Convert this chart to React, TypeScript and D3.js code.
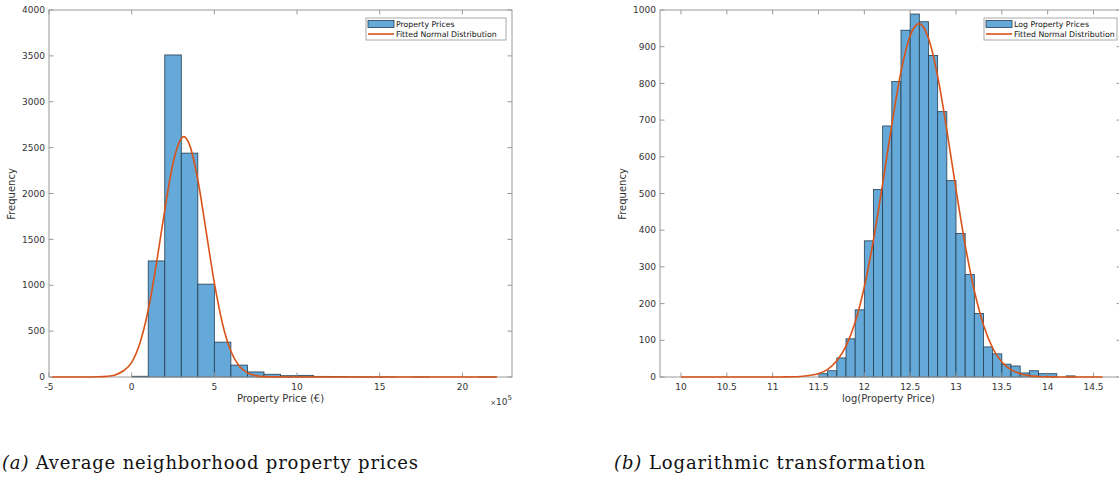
import React from "react";
import * as d3 from "d3";

// left panel: raw prices (x in units of 10^5 €), bin width 1
const priceBinStart = [0, 1, 2, 3, 4, 5, 6, 7, 8, 9, 10, 11, 12, 13, 14, 15, 16, 17, 18, 19, 20, 21];
const priceCounts = [8, 1265, 3510, 2440, 1012, 380, 130, 55, 30, 14, 18, 7, 6, 2, 1, 1, 0, 1, 0, 0, 0, 1];
const priceFitX = [-4.8, -3, -2, -1.5, -1, -0.5, 0, 0.5, 1, 1.5, 2, 2.5, 3, 3.15, 3.5, 4, 4.5, 5, 5.5, 6, 6.5, 7, 7.5, 8, 9, 22.1];
const priceFitY = [0, 0, 2, 7, 23, 68, 160, 370, 730, 1240, 1820, 2330, 2600, 2620, 2530, 2150, 1590, 1025, 575, 280, 120, 45, 15, 4, 0, 0];
const priceTicksX = [-5, 0, 5, 10, 15, 20];
const priceTicksY = [0, 500, 1000, 1500, 2000, 2500, 3000, 3500, 4000];

// right panel: log prices, bin width 0.1
const logBinStart = [11.5, 11.6, 11.7, 11.8, 11.9, 12.0, 12.1, 12.2, 12.3, 12.4, 12.5, 12.6, 12.7, 12.8, 12.9, 13.0, 13.1, 13.2, 13.3, 13.4, 13.5, 13.6, 13.7, 13.8, 13.9, 14.0, 14.1, 14.2];
const logCounts = [9, 17, 52, 104, 183, 371, 511, 684, 805, 945, 989, 968, 876, 723, 535, 391, 279, 173, 82, 63, 35, 30, 11, 17, 9, 9, 0, 3];
const logFitX = [
  10.0, 10.1, 10.2, 10.3, 10.4, 10.5, 10.6, 10.7, 10.8, 10.9,
  11.0, 11.1, 11.2, 11.3, 11.4, 11.5, 11.6, 11.7, 11.8, 11.9,
  12.0, 12.1, 12.2, 12.3, 12.4, 12.5, 12.6, 12.7, 12.8, 12.9,
  13.0, 13.1, 13.2, 13.3, 13.4, 13.5, 13.6, 13.7, 13.8, 13.9,
  14.0, 14.1, 14.2, 14.3, 14.4, 14.5, 14.6,
];
const logFitY = [
  0, 0, 0, 0, 0, 0, 0, 0, 0, 0,
  0, 0.2, 0.5, 1.5, 4, 9, 21, 44, 84, 149,
  246, 374, 527, 688, 832, 930, 963, 923, 819, 673,
  511, 360, 235, 142, 79, 41, 20, 9, 3.5, 1.4,
  0.5, 0.2, 0, 0, 0, 0, 0,
];
const logTicksX = [10, 10.5, 11, 11.5, 12, 12.5, 13, 13.5, 14, 14.5];
const logTicksY = [0, 100, 200, 300, 400, 500, 600, 700, 800, 900, 1000];

const BAR_FILL = "#64a9d7";
const BAR_EDGE = "#253d50";
const FIT = "#d95319";
const AXIS = "#999999";
const TXT = "#333333";
const FONT = "DejaVu Sans, sans-serif";

const Panel = ({ left, right, xDomain, yMax, xTicks, yTicks, bins, counts, binWidth, fitX, fitY, xLabel, barName, legendX, legendW, exponent }) => {
  const top = 10;
  const bottom = 377;
  const x = d3.scaleLinear().domain(xDomain).range([left, right]);
  const y = d3.scaleLinear().domain([0, yMax]).range([bottom, top]);
  const fitLine = d3
    .line()
    .x((d) => x(d[0]))
    .y((d) => y(d[1]))
    .curve(d3.curveMonotoneX);
  const fitPts = fitX.map((v, i) => [v, fitY[i]]);
  const tl = 4.5;

  return (
    <g fontFamily={FONT}>
      {/* bars */}
      {bins.map((b, i) => (
        <rect
          key={i}
          x={x(b)}
          y={y(counts[i])}
          width={x(b + binWidth) - x(b)}
          height={bottom - y(counts[i])}
          fill={BAR_FILL}
          stroke={BAR_EDGE}
          strokeWidth={0.8}
        />
      ))}

      {/* axes box and ticks */}
      <rect x={left} y={top} width={right - left} height={bottom - top} fill="none" stroke={AXIS} strokeWidth={1} />
      {xTicks.map((t) => (
        <g key={"x" + t}>
          <line x1={x(t)} x2={x(t)} y1={bottom} y2={bottom - tl} stroke={AXIS} />
          <line x1={x(t)} x2={x(t)} y1={top} y2={top + tl} stroke={AXIS} />
          <text x={x(t)} y={390} fontSize={9} fill={TXT} textAnchor="middle">
            {String(t)}
          </text>
        </g>
      ))}
      {yTicks.map((t) => (
        <g key={"y" + t}>
          <line x1={left} x2={left + tl} y1={y(t)} y2={y(t)} stroke={AXIS} />
          <line x1={right} x2={right - tl} y1={y(t)} y2={y(t)} stroke={AXIS} />
          <text x={left - 4} y={y(t)} dy="0.35em" fontSize={9} fill={TXT} textAnchor="end">
            {String(t)}
          </text>
        </g>
      ))}

      {/* fitted curve */}
      <path d={fitLine(fitPts)} fill="none" stroke={FIT} strokeWidth={1.6} />

      {/* labels */}
      <text x={(left + Math.min(right, 1117)) / 2} y={402} fontSize={10} fill={TXT} textAnchor="middle">
        {xLabel}
      </text>
      <text transform={`translate(${left - 34},194) rotate(-90)`} fontSize={10} fill={TXT} textAnchor="middle">
        Frequency
      </text>
      {exponent && (
        <text x={right} y={405} fontSize={9} fill={TXT} textAnchor="end">
          <tspan fontSize={7}>×</tspan>10
          <tspan fontSize={7} dy={-5}>5</tspan>
        </text>
      )}

      {/* legend */}
      <rect x={legendX} y={18} width={legendW} height={22} fill="#fff" stroke="#aaaaaa" strokeWidth={1} />
      <rect x={legendX + 2} y={20.5} width={26} height={7} fill={BAR_FILL} stroke={BAR_EDGE} strokeWidth={0.8} />
      <line x1={legendX + 2} x2={legendX + 28} y1={34} y2={34} stroke={FIT} strokeWidth={1.6} />
      <text x={legendX + 30} y={27} fontSize={7.8} fill="#111">
        {barName}
      </text>
      <text x={legendX + 30} y={37} fontSize={7.8} fill="#111">
        Fitted Normal Distribution
      </text>
    </g>
  );
};

const App = () => {
  return (
    <svg
      width={1119}
      height={478}
      style={{ position: "absolute", left: 0, top: 0, background: "#fff" }}
    >
      <rect width={1119} height={478} fill="#fff" />
      <Panel
        left={49}
        right={512}
        xDomain={[-5, 23]}
        yMax={4000}
        xTicks={priceTicksX}
        yTicks={priceTicksY}
        bins={priceBinStart}
        counts={priceCounts}
        binWidth={1}
        fitX={priceFitX}
        fitY={priceFitY}
        xLabel="Property Price (€)"
        barName="Property Prices"
        legendX={366}
        legendW={140}
        exponent
      />
      <Panel
        left={660}
        right={1121}
        xDomain={[9.771, 14.8]}
        yMax={1000}
        xTicks={logTicksX}
        yTicks={logTicksY}
        bins={logBinStart}
        counts={logCounts}
        binWidth={0.1}
        fitX={logFitX}
        fitY={logFitY}
        xLabel="log(Property Price)"
        barName="Log Property Prices"
        legendX={984}
        legendW={133}
        exponent={false}
      />

      {/* captions */}
      <text x={2} y={469} fontFamily="DejaVu Serif, serif" fontSize={18} fill="#111" textLength={416}>
        <tspan fontStyle="italic">(a)</tspan> Average neighborhood property prices
      </text>
      <text x={614} y={469} fontFamily="DejaVu Serif, serif" fontSize={18} fill="#111" textLength={311}>
        <tspan fontStyle="italic">(b)</tspan> Logarithmic transformation
      </text>
    </svg>
  );
};

export default App;
